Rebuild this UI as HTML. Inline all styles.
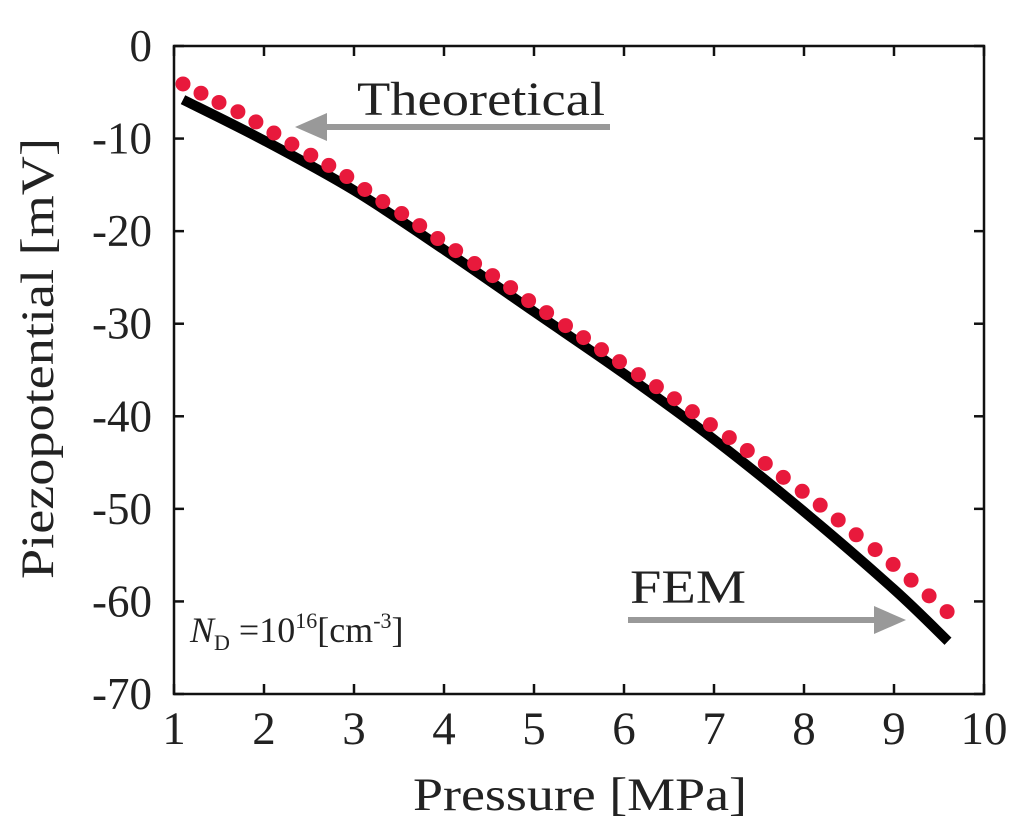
<!DOCTYPE html>
<html><head><meta charset="utf-8"><style>
body{margin:0;background:#fff}
svg{display:block}
text{font-family:"Liberation Serif",serif;fill:#222}
</style></head><body>
<svg id="chart" width="1024" height="837" viewBox="0 0 1024 837">
<g id="grid"></g>
<g id="marks"></g>
<rect x="174" y="46" width="810" height="648" fill="none" stroke="#111" stroke-width="2.5"/>
<text x="413" y="810" font-size="47" textLength="334" lengthAdjust="spacingAndGlyphs">Pressure [MPa]</text>
<text transform="translate(53,579) rotate(-90)" font-size="47" textLength="441" lengthAdjust="spacingAndGlyphs">Piezopotential [mV]</text>
<g>
<text x="357" y="115" font-size="48" textLength="248" lengthAdjust="spacingAndGlyphs">Theoretical</text>
<line x1="610" y1="127" x2="325" y2="127" stroke="#999" stroke-width="6"/>
<polygon points="295,127 327,113 327,141" fill="#999"/>
</g>
<g>
<text x="630" y="603" font-size="48" textLength="116" lengthAdjust="spacingAndGlyphs">FEM</text>
<line x1="628" y1="620" x2="878" y2="620" stroke="#999" stroke-width="6"/>
<polygon points="906,620 874,606 874,634" fill="#999"/>
</g>
<text x="190" y="642" font-size="36"><tspan font-style="italic">N</tspan><tspan font-size="22" dy="8">D</tspan><tspan dy="-8"> =10</tspan><tspan font-size="22" dy="-14">16</tspan><tspan dy="14">[cm</tspan><tspan font-size="22" dy="-14">-3</tspan><tspan dy="14">]</tspan></text>
</svg>
<script>
const xTicks=[1,2,3,4,5,6,7,8,9,10];
const yTicks=[0,-10,-20,-30,-40,-50,-60,-70];
const theoX=[1.10,1.30,1.50,1.71,1.91,2.11,2.31,2.52,2.72,2.92,3.12,3.32,3.53,3.73,3.93,4.13,4.34,4.54,4.74,4.94,5.14,5.35,5.55,5.75,5.95,6.16,6.36,6.56,6.76,6.96,7.17,7.37,7.57,7.77,7.98,8.18,8.38,8.58,8.79,8.99,9.19,9.39,9.59];
const theoY=[-4.1,-5.1,-6.1,-7.1,-8.2,-9.4,-10.6,-11.8,-12.9,-14.1,-15.5,-16.8,-18.1,-19.4,-20.8,-22.1,-23.5,-24.8,-26.1,-27.5,-28.8,-30.2,-31.5,-32.8,-34.1,-35.5,-36.8,-38.1,-39.5,-40.9,-42.3,-43.7,-45.1,-46.6,-48.1,-49.6,-51.2,-52.8,-54.4,-56.0,-57.7,-59.4,-61.1];
const femX=[1.1,2,3,4,5,6,7,8,9,9.6];
const femY=[-5.8,-10.2,-15.6,-22,-28.7,-35.4,-42.5,-50.3,-58.7,-64.3];
const NS="http://www.w3.org/2000/svg";
const X=v=>174+(v-1)*90;
const Y=v=>46-v*(648/70);
function mk(t,a,p){const e=document.createElementNS(NS,t);for(const k in a)e.setAttribute(k,a[k]);p.appendChild(e);return e;}
const g=document.getElementById('grid'),m=document.getElementById('marks');
xTicks.forEach(t=>{
 const l=mk('line',{x1:X(t),x2:X(t),y1:694,y2:684,stroke:'#111','stroke-width':2.5},g);
 
 
 const l2=mk('line',{x1:X(t),x2:X(t),y1:46,y2:56,stroke:'#111','stroke-width':2.5},g);
 
 
 const s=mk('text',{x:X(t),y:744,'font-size':47,'text-anchor':'middle'},g);s.textContent=t;
 
 
});
yTicks.forEach(t=>{
 const l=mk('line',{x1:174,x2:184,y1:Y(t),y2:Y(t),stroke:'#111','stroke-width':2.5},g);
 
 
 const l2=mk('line',{x1:974,x2:984,y1:Y(t),y2:Y(t),stroke:'#111','stroke-width':2.5},g);
 
 
 const s=mk('text',{x:152,y:Y(t)+15,'font-size':45,'text-anchor':'end'},g);s.textContent=t;
 
 
});
const P=femX.map((x,i)=>[X(x),Y(femY[i])]);
let d='M'+P[0][0]+','+P[0][1];
for(let i=0;i<P.length-1;i++){
 const p0=P[Math.max(0,i-1)],p1=P[i],p2=P[i+1],p3=P[Math.min(P.length-1,i+2)];
 const c1=[p1[0]+(p2[0]-p0[0])/6,p1[1]+(p2[1]-p0[1])/6];
 const c2=[p2[0]-(p3[0]-p1[0])/6,p2[1]-(p3[1]-p1[1])/6];
 d+=' C'+c1+' '+c2+' '+p2;
}
const pl=mk('path',{d:d,fill:'none',stroke:'#000','stroke-width':10},m);


theoX.forEach((x,i)=>{
 const c=mk('circle',{cx:X(x),cy:Y(theoY[i]),r:7.5,fill:'#e8193c'},m);
 
 
});
</script>
</body></html>
